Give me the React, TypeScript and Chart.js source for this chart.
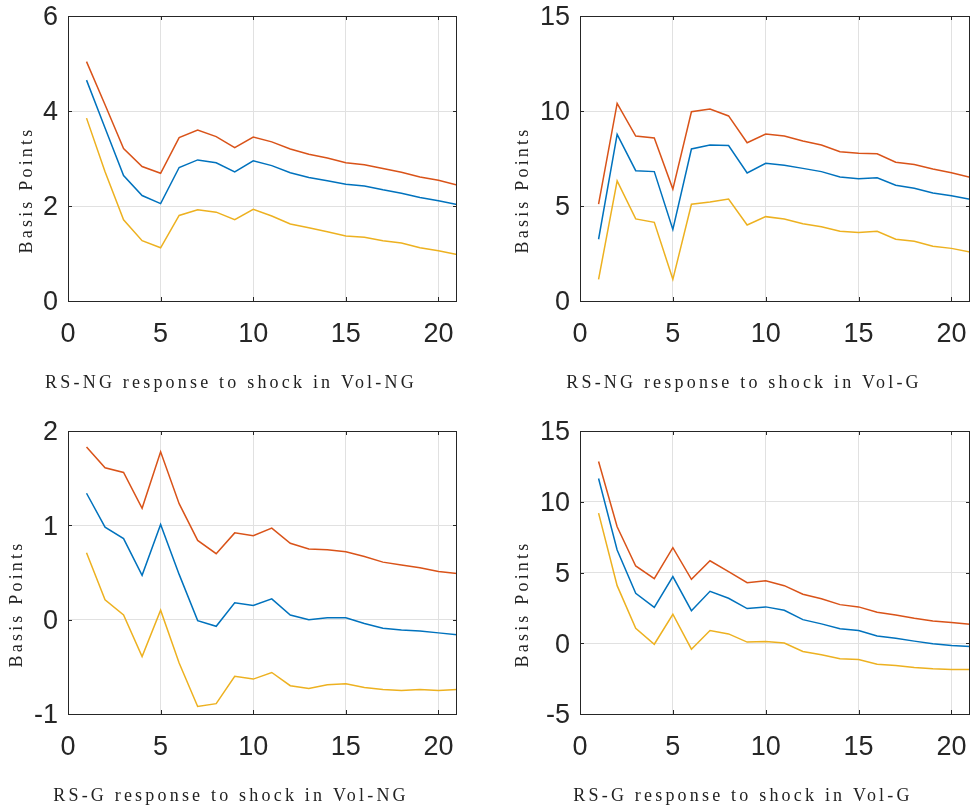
import { useEffect, useRef } from 'react';
import { Chart, registerables } from 'chart.js';

Chart.register(...registerables);

// horizon (periods after the shock)
const periods = [1, 2, 3, 4, 5, 6, 7, 8, 9, 10, 11, 12, 13, 14, 15, 16, 17, 18, 19, 20, 21];
const xTicks = [0, 5, 10, 15, 20];

// RS-NG response to shock in Vol-NG
const ngNgMid = [4.65, 3.64, 2.64, 2.22, 2.05, 2.81, 2.97, 2.91, 2.72, 2.95, 2.85, 2.7, 2.6, 2.53, 2.46, 2.42, 2.34, 2.27, 2.18, 2.11, 2.03];
const ngNgUpper = [5.04, 4.13, 3.21, 2.83, 2.69, 3.44, 3.6, 3.46, 3.23, 3.45, 3.35, 3.2, 3.09, 3.01, 2.91, 2.87, 2.79, 2.71, 2.61, 2.54, 2.44];
const ngNgLower = [3.85, 2.72, 1.71, 1.27, 1.12, 1.8, 1.92, 1.87, 1.71, 1.93, 1.79, 1.62, 1.54, 1.46, 1.37, 1.34, 1.27, 1.22, 1.12, 1.06, 0.98];
const ngNgTicks = [0, 2, 4, 6];

// RS-NG response to shock in Vol-G
const ngGMid = [3.25, 8.77, 6.86, 6.81, 3.77, 8.0, 8.21, 8.18, 6.74, 7.25, 7.14, 6.98, 6.81, 6.53, 6.44, 6.49, 6.09, 5.93, 5.68, 5.54, 5.35];
const ngGUpper = [5.1, 10.4, 8.68, 8.58, 5.89, 9.96, 10.1, 9.74, 8.33, 8.79, 8.68, 8.42, 8.21, 7.86, 7.77, 7.75, 7.3, 7.18, 6.95, 6.75, 6.51];
const ngGLower = [1.14, 6.32, 4.32, 4.14, 1.14, 5.09, 5.21, 5.37, 4.0, 4.44, 4.32, 4.07, 3.91, 3.67, 3.6, 3.67, 3.25, 3.14, 2.88, 2.77, 2.58];
const ngGTicks = [0, 5, 10, 15];

// RS-G response to shock in Vol-NG
const gNgMid = [1.34, 0.98, 0.86, 0.47, 1.01, 0.48, -0.01, -0.07, 0.18, 0.15, 0.22, 0.05, 0.0, 0.02, 0.02, -0.04, -0.09, -0.11, -0.12, -0.14, -0.16];
const gNgUpper = [1.83, 1.61, 1.56, 1.18, 1.78, 1.23, 0.84, 0.7, 0.92, 0.89, 0.97, 0.81, 0.75, 0.74, 0.72, 0.67, 0.61, 0.58, 0.55, 0.51, 0.49];
const gNgLower = [0.71, 0.21, 0.05, -0.39, 0.1, -0.46, -0.92, -0.89, -0.6, -0.63, -0.56, -0.7, -0.73, -0.69, -0.68, -0.72, -0.74, -0.75, -0.74, -0.75, -0.74];
const gNgTicks = [-1, 0, 1, 2];

// RS-G response to shock in Vol-G
const gGMid = [11.64, 6.59, 3.53, 2.54, 4.71, 2.3, 3.67, 3.18, 2.45, 2.57, 2.33, 1.67, 1.37, 1.02, 0.9, 0.52, 0.36, 0.15, -0.04, -0.16, -0.23];
const gGUpper = [12.84, 8.23, 5.46, 4.56, 6.75, 4.52, 5.83, 5.06, 4.28, 4.42, 4.07, 3.46, 3.15, 2.73, 2.57, 2.19, 2.0, 1.77, 1.58, 1.46, 1.35];
const gGLower = [9.2, 4.07, 1.06, -0.07, 2.05, -0.42, 0.9, 0.66, 0.08, 0.12, 0.02, -0.58, -0.82, -1.1, -1.15, -1.48, -1.57, -1.71, -1.8, -1.85, -1.85];
const gGTicks = [-5, 0, 5, 10, 15];

const BLUE = '#0072BD';
const ORANGE = '#D95319';
const YELLOW = '#EDB120';
const AXIS = '#262626';
const GRID = '#e1e1e1';
const SERIF = '"Liberation Serif", "Times New Roman", serif';
const SANS = '"Liberation Sans", Arial, Helvetica, sans-serif';

// box around the axes plus MATLAB-style inward ticks, and the LaTeX-ish labels
const framePlugin = {
  id: 'frame',
  afterDraw(chart: any, _args: any, opts: any) {
    const { ctx, chartArea: a, scales } = chart;
    const tl = 4;
    ctx.save();
    ctx.strokeStyle = AXIS;
    ctx.lineWidth = 1;
    ctx.beginPath();
    scales.x.ticks.forEach((t: any) => {
      const px = Math.round(scales.x.getPixelForValue(t.value)) + 0.5;
      ctx.moveTo(px, a.bottom);
      ctx.lineTo(px, a.bottom - tl);
      ctx.moveTo(px, a.top);
      ctx.lineTo(px, a.top + tl);
    });
    scales.y.ticks.forEach((t: any) => {
      const py = Math.round(scales.y.getPixelForValue(t.value)) + 0.5;
      ctx.moveTo(a.left, py);
      ctx.lineTo(a.left + tl, py);
      ctx.moveTo(a.right, py);
      ctx.lineTo(a.right - tl, py);
    });
    ctx.stroke();
    ctx.strokeRect(Math.round(a.left) + 0.5, Math.round(a.top) + 0.5, Math.round(a.right - a.left) - 1, Math.round(a.bottom - a.top));

    ctx.fillStyle = '#222';
    ctx.font = `18px ${SERIF}`;
    (ctx as any).letterSpacing = '3.2px';
    ctx.textAlign = 'center';
    ctx.textBaseline = 'alphabetic';
    ctx.fillText(opts.caption, opts.captionX, opts.captionY);

    ctx.translate(opts.labelX, opts.labelY);
    ctx.rotate(-Math.PI / 2);
    ctx.textBaseline = 'middle';
    ctx.fillText('Basis Points', 0, 0);
    ctx.restore();
  },
};

type PanelProps = {
  left: number;
  top: number;
  width: number;
  height: number;
  padTop: number;
  padRight: number;
  yAxisWidth: number;
  xAxisHeight: number;
  mid: number[];
  upper: number[];
  lower: number[];
  yTicks: number[];
  caption: string;
  captionX: number;
  captionY: number;
  labelX: number;
  labelY: number;
};

const Panel = (p: PanelProps) => {
  const canvasRef = useRef<HTMLCanvasElement>(null);

  useEffect(() => {
    if (!canvasRef.current) return;
    const line = (values: number[], color: string) => ({
      data: periods.map((x, i) => ({ x, y: values[i] })),
      borderColor: color,
      borderWidth: 1.5,
      pointRadius: 0,
      fill: false,
      tension: 0,
    });

    const chart = new Chart(canvasRef.current, {
      type: 'line',
      data: {
        datasets: [line(p.mid, BLUE), line(p.upper, ORANGE), line(p.lower, YELLOW)],
      },
      options: {
        animation: false,
        responsive: false,
        layout: { autoPadding: false, padding: { top: p.padTop, right: p.padRight, left: 0, bottom: 0 } },
        plugins: {
          legend: { display: false },
          tooltip: { enabled: false },
          frame: {
            caption: p.caption,
            captionX: p.captionX,
            captionY: p.captionY,
            labelX: p.labelX,
            labelY: p.labelY,
          },
        } as any,
        scales: {
          x: {
            type: 'linear',
            min: 0,
            max: 21,
            afterBuildTicks: (s: any) => {
              s.ticks = xTicks.map((value) => ({ value }));
            },
            afterFit: (s: any) => {
              s.height = p.xAxisHeight;
              s.paddingLeft = 0;
              s.paddingRight = 0;
            },
            grid: { color: GRID, lineWidth: 1, drawTicks: false },
            border: { display: false },
            ticks: { color: AXIS, font: { family: SANS, size: 27 }, padding: 17, maxRotation: 0 },
          },
          y: {
            type: 'linear',
            min: p.yTicks[0],
            max: p.yTicks[p.yTicks.length - 1],
            afterBuildTicks: (s: any) => {
              s.ticks = p.yTicks.map((value) => ({ value }));
            },
            afterFit: (s: any) => {
              s.width = p.yAxisWidth;
              s.paddingTop = 0;
              s.paddingBottom = 0;
            },
            grid: { color: GRID, lineWidth: 1, drawTicks: false },
            border: { display: false },
            ticks: { color: AXIS, font: { family: SANS, size: 27 }, padding: 10, labelOffset: 2 },
          },
        },
      },
      plugins: [framePlugin],
    });

    return () => chart.destroy();
  }, []);

  return (
    <canvas
      ref={canvasRef}
      width={p.width}
      height={p.height}
      style={{ position: 'absolute', left: p.left, top: p.top, width: p.width, height: p.height }}
    />
  );
};

export default function App() {
  return (
    <div style={{ position: 'absolute', left: 0, top: 0, width: 971, height: 809, background: '#fff', overflow: 'hidden' }}>
      <Panel
        left={0} top={0} width={485} height={405} padTop={16} padRight={28} yAxisWidth={68} xAxisHeight={104}
        mid={ngNgMid} upper={ngNgUpper} lower={ngNgLower} yTicks={ngNgTicks}
        caption="RS-NG response to shock in Vol-NG" captionX={231} captionY={388} labelX={27} labelY={190}
      />
      <Panel
        left={486} top={0} width={485} height={405} padTop={16} padRight={1} yAxisWidth={94} xAxisHeight={104}
        mid={ngGMid} upper={ngGUpper} lower={ngGLower} yTicks={ngGTicks}
        caption="RS-NG response to shock in Vol-G" captionX={258} captionY={388} labelX={37} labelY={190}
      />
      <Panel
        left={0} top={405} width={485} height={404} padTop={26} padRight={28} yAxisWidth={68} xAxisHeight={95}
        mid={gNgMid} upper={gNgUpper} lower={gNgLower} yTicks={gNgTicks}
        caption="RS-G response to shock in Vol-NG" captionX={231} captionY={396} labelX={17} labelY={199}
      />
      <Panel
        left={486} top={405} width={485} height={404} padTop={26} padRight={1} yAxisWidth={94} xAxisHeight={95}
        mid={gGMid} upper={gGUpper} lower={gGLower} yTicks={gGTicks}
        caption="RS-G response to shock in Vol-G" captionX={257} captionY={396} labelX={37} labelY={199}
      />
    </div>
  );
}
